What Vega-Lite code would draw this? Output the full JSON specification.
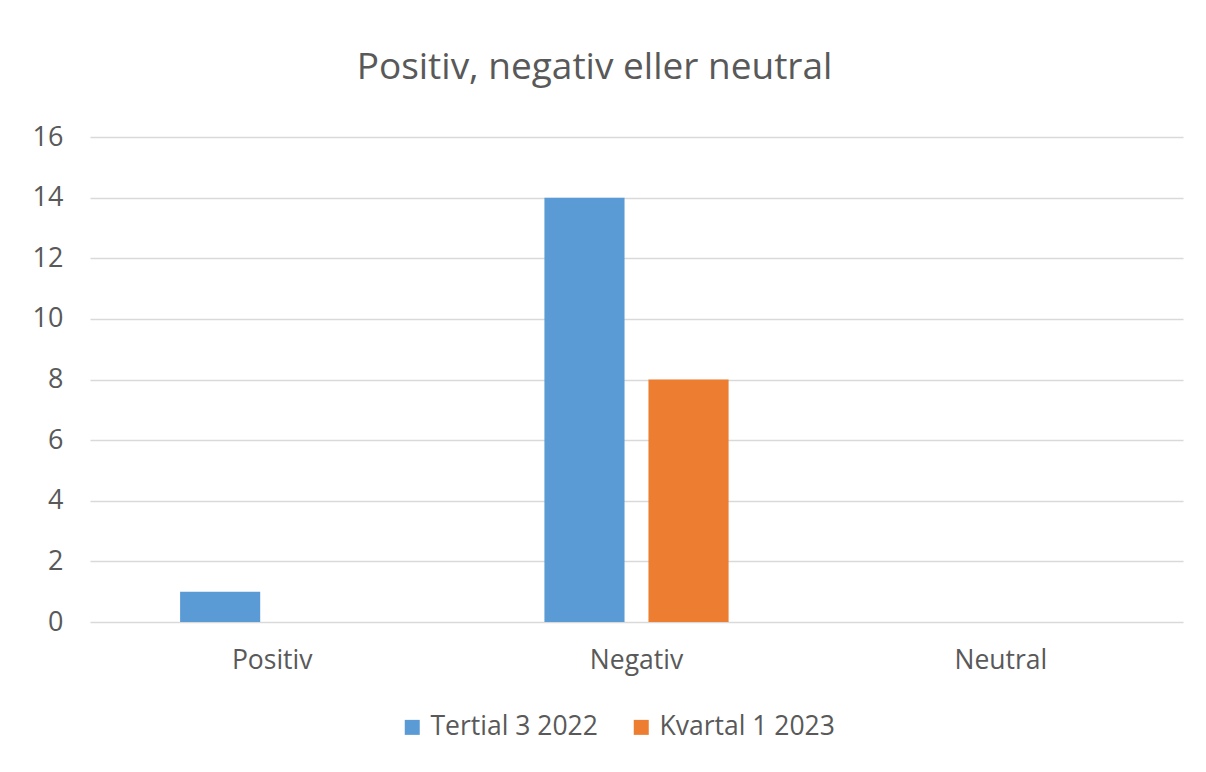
{
  "$schema": "https://vega.github.io/schema/vega-lite/v6.json",
  "width": 1093,
  "height": 485,
  "autosize": "none",
  "padding": {"left": 90, "top": 137, "right": 23, "bottom": 150},
  "background": "white",
  "title": {
    "text": "Positiv, negativ eller neutral",
    "font": "Open Sans",
    "fontSize": 37,
    "fontWeight": "normal",
    "color": "#595959",
    "anchor": "middle",
    "frame": "group",
    "baseline": "alphabetic",
    "dx": -42,
    "offset": 7
  },
  "data": {
    "values": [
      {"kategori": "Positiv", "serie": "Tertial 3 2022", "antal": 1},
      {"kategori": "Positiv", "serie": "Kvartal 1 2023", "antal": 0},
      {"kategori": "Negativ", "serie": "Tertial 3 2022", "antal": 14},
      {"kategori": "Negativ", "serie": "Kvartal 1 2023", "antal": 8},
      {"kategori": "Neutral", "serie": "Tertial 3 2022", "antal": 0},
      {"kategori": "Neutral", "serie": "Kvartal 1 2023", "antal": 0}
    ]
  },
  "mark": {"type": "bar"},
  "encoding": {
    "x": {
      "field": "kategori",
      "type": "nominal",
      "sort": ["Positiv", "Negativ", "Neutral"],
      "scale": {"paddingInner": 0.4945, "paddingOuter": 0.2473},
      "axis": {
        "title": null,
        "labelAngle": 0,
        "ticks": false,
        "domain": false,
        "grid": false,
        "labelFont": "Open Sans",
        "labelFontSize": 26.5,
        "labelColor": "#595959",
        "labelPadding": 25
      }
    },
    "xOffset": {
      "field": "serie",
      "type": "nominal",
      "sort": ["Tertial 3 2022", "Kvartal 1 2023"],
      "scale": {"paddingInner": 0.23, "paddingOuter": 0}
    },
    "y": {
      "field": "antal",
      "type": "quantitative",
      "scale": {"domain": [0, 16], "nice": false},
      "axis": {
        "title": null,
        "values": [0, 2, 4, 6, 8, 10, 12, 14, 16],
        "ticks": false,
        "domain": false,
        "grid": true,
        "gridColor": "#D9D9D9",
        "gridWidth": 1.5,
        "labelFont": "Open Sans",
        "labelFontSize": 27,
        "labelColor": "#595959",
        "labelPadding": 27
      }
    },
    "color": {
      "field": "serie",
      "type": "nominal",
      "sort": ["Tertial 3 2022", "Kvartal 1 2023"],
      "scale": {
        "domain": ["Tertial 3 2022", "Kvartal 1 2023"],
        "range": ["#5B9BD5", "#ED7D31"]
      },
      "legend": {
        "title": null,
        "orient": "none",
        "legendX": 309,
        "legendY": 577,
        "direction": "horizontal",
        "symbolType": "square",
        "symbolSize": 225,
        "symbolStrokeWidth": 0,
        "labelFont": "Open Sans",
        "labelFontSize": 26.5,
        "labelColor": "#595959",
        "labelOffset": 5,
        "labelLimit": 400,
        "columnPadding": 30,
        "padding": 0
      }
    }
  },
  "config": {"view": {"stroke": null}}
}
